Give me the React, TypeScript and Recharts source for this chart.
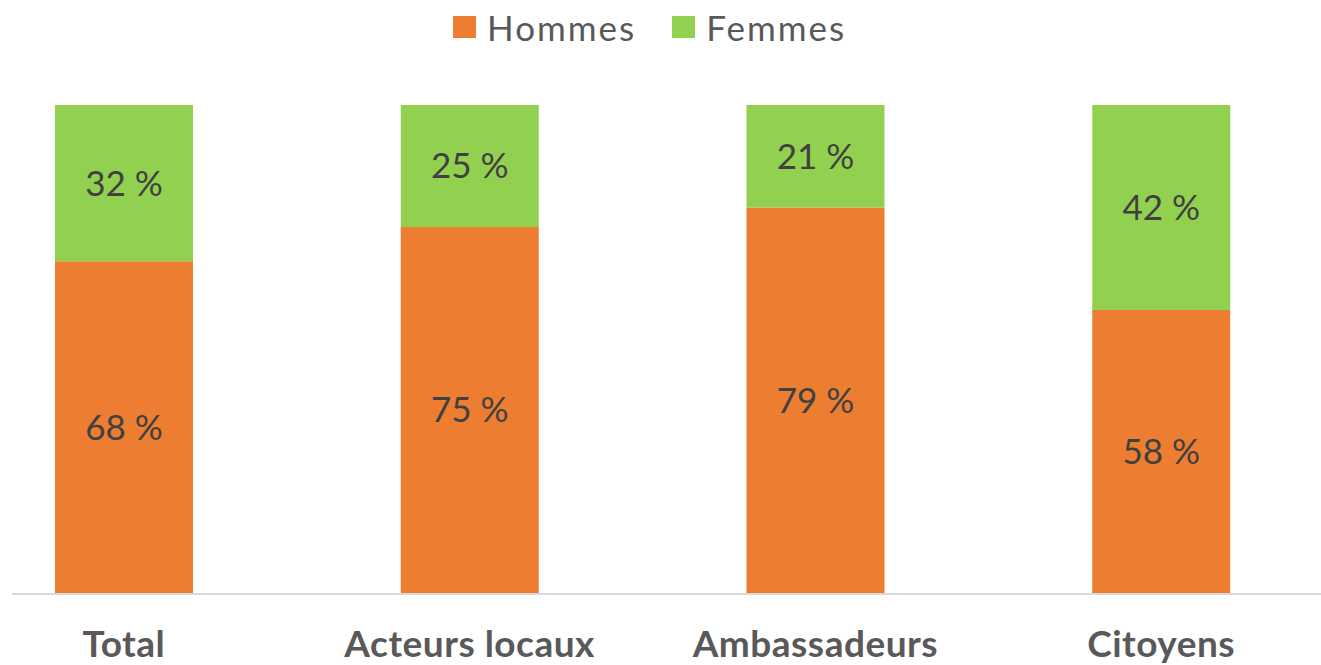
import { BarChart, Bar, XAxis, YAxis, LabelList } from 'recharts'

const categories = ['Total', 'Acteurs locaux', 'Ambassadeurs', 'Citoyens']
const hommes = [68, 75, 79, 58]
const femmes = [32, 25, 21, 42]
const seriesNames = ['Hommes', 'Femmes']
const seriesColors = ['#ED7D31', '#92D050']

const data = categories.map((name, i) => ({ name, Hommes: hommes[i], Femmes: femmes[i] }))

const font = 'Lato, "Open Sans", sans-serif'

const CategoryTick = (props: any) => {
  const { x, y, payload } = props
  return (
    <text x={x} y={y + 64} textAnchor="middle" fill="#595959" fontSize={37} fontWeight={700} fontFamily={font} letterSpacing={0.5}>
      {payload.value}
    </text>
  )
}

export default function App() {
  return (
    <div style={{ position: 'fixed', left: 0, top: 0, width: 1321, height: 665, overflow: 'hidden', background: '#fff' }}>
      <div style={{ position: 'absolute', left: -49, top: 0 }}>
        <BarChart width={1383} height={665} data={data} margin={{ top: 105, right: 0, left: 0, bottom: 0 }} barSize={138}>
          <XAxis dataKey="name" axisLine={false} tickLine={false} tickSize={0} tickMargin={0} height={72} tick={<CategoryTick />} interval={0} />
          <YAxis hide domain={[0, 100]} />
          <Bar dataKey="Hommes" stackId="a" fill={seriesColors[0]} isAnimationActive={false}>
            <LabelList dataKey="Hommes" position="center" formatter={(v: any) => `${v} %`} fill="#404040" fontSize={35} fontFamily={font} />
          </Bar>
          <Bar dataKey="Femmes" stackId="a" fill={seriesColors[1]} isAnimationActive={false}>
            <LabelList dataKey="Femmes" position="center" formatter={(v: any) => `${v} %`} fill="#404040" fontSize={35} fontFamily={font} />
          </Bar>
        </BarChart>
      </div>
      {/* axis baseline */}
      <div style={{ position: 'absolute', left: 12, right: 0, top: 593, height: 2, background: '#D9D9D9' }} />
      {/* legend */}
      <div style={{ position: 'absolute', left: 453, top: 8, display: 'flex', alignItems: 'center', fontFamily: font, fontSize: 35, color: '#595959', height: 38, letterSpacing: 2 }}>
        {seriesNames.map((n, i) => (
          <div key={n} style={{ display: 'flex', alignItems: 'center', marginRight: i === 0 ? 36 : 0 }}>
            <span style={{ display: 'inline-block', width: 23, height: 22, background: seriesColors[i], marginRight: 11 }} />
            <span>{n}</span>
          </div>
        ))}
      </div>
    </div>
  )
}
